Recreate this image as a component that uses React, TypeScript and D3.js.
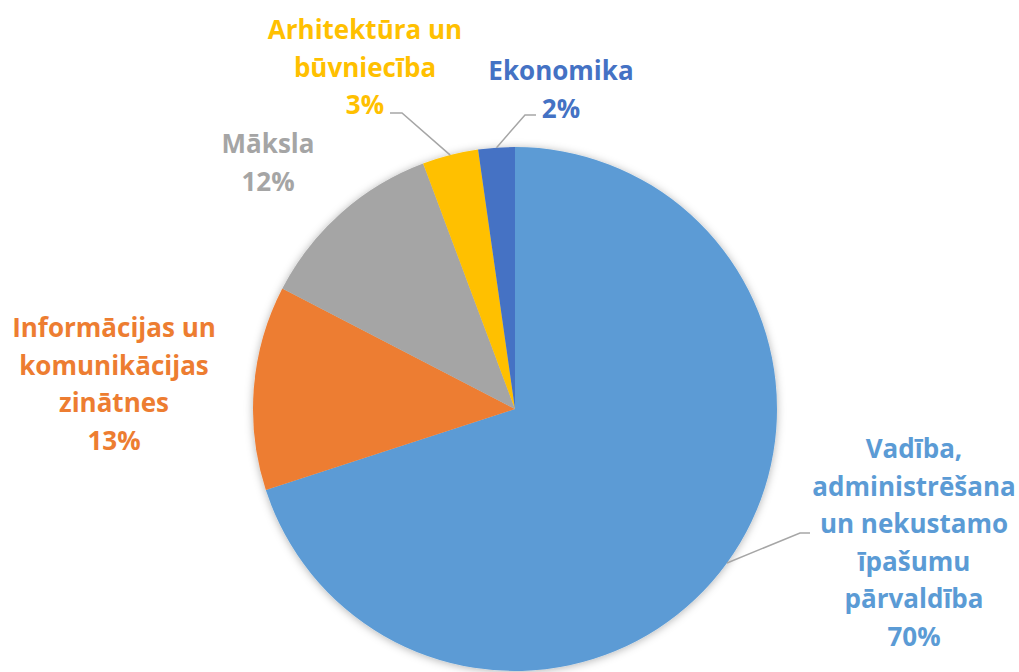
import React from "react";
import * as d3 from "d3";

const categories = [
  "Vadība, administrēšana un nekustamo īpašumu pārvaldība",
  "Informācijas un komunikācijas zinātnes",
  "Māksla",
  "Arhitektūra un būvniecība",
  "Ekonomika",
];
const shares = [70.0, 12.6, 11.7, 3.45, 2.25];
const colors = ["#5B9BD5", "#ED7D31", "#A5A5A5", "#FFC000", "#4472C4"];
const labelLines = [
  ["Vadība,", "administrēšana", "un nekustamo", "īpašumu", "pārvaldība"],
  ["Informācijas un", "komunikācijas", "zinātnes"],
  ["Māksla"],
  ["Arhitektūra un", "būvniecība"],
  ["Ekonomika"],
];

// layout of labels (x center, first baseline, leader elbow)
const labelLayout = [
  { x: 914, y: 458, leader: { ex: 800, ey: 533, tx: 810 } },
  { x: 114, y: 337, leader: null },
  { x: 268, y: 153, leader: null },
  { x: 365, y: 39, leader: { ex: 402, ey: 113, tx: 390 } },
  { x: 561, y: 80, leader: { ex: 525, ey: 115, tx: 536 } },
];

const W = 1019;
const H = 672;
const cx = 515;
const cy = 409;
const R = 262;
const LH = 37.5;

export default function App() {
  const pie = d3.pie<number>().sort(null).value((d) => d)(shares);
  const arc = d3.arc<d3.PieArcDatum<number>>().innerRadius(0).outerRadius(R);
  const total = d3.sum(shares);
  const fmt = d3.format(".0%");

  return (
    <svg
      width={W}
      height={H}
      style={{ position: "absolute", left: 0, top: 0, background: "#fff" }}
      fontFamily="'Open Sans', Lato, sans-serif"
      fontWeight={700}
    >
      <defs>
        <filter id="sh" x="-20%" y="-20%" width="140%" height="140%">
          <feDropShadow dx="0" dy="1" stdDeviation="4" floodColor="#000" floodOpacity="0.3" />
        </filter>
      </defs>
      <g transform={`translate(${cx},${cy})`} filter="url(#sh)">
        {pie.map((p, i) => (
          <path key={i} d={arc(p) || ""} fill={colors[i]}>
            <title>{categories[i]}</title>
          </path>
        ))}
      </g>
      {pie.map((p, i) => {
        const L = labelLayout[i];
        const mid = (p.startAngle + p.endAngle) / 2;
        const px = cx + R * Math.sin(mid);
        const py = cy - R * Math.cos(mid);
        const lines = [...labelLines[i], fmt(shares[i] / total)];
        return (
          <g key={i}>
            {L.leader && (
              <polyline
                points={`${px},${py} ${L.leader.ex},${L.leader.ey} ${L.leader.tx},${L.leader.ey}`}
                fill="none"
                stroke="#A6A6A6"
                strokeWidth={1.5}
              />
            )}
            <text fill={colors[i]} fontSize={26} textAnchor="middle">
              {lines.map((t, j) => (
                <tspan key={j} x={L.x} y={L.y + j * LH}>
                  {t}
                </tspan>
              ))}
            </text>
          </g>
        );
      })}
    </svg>
  );
}
